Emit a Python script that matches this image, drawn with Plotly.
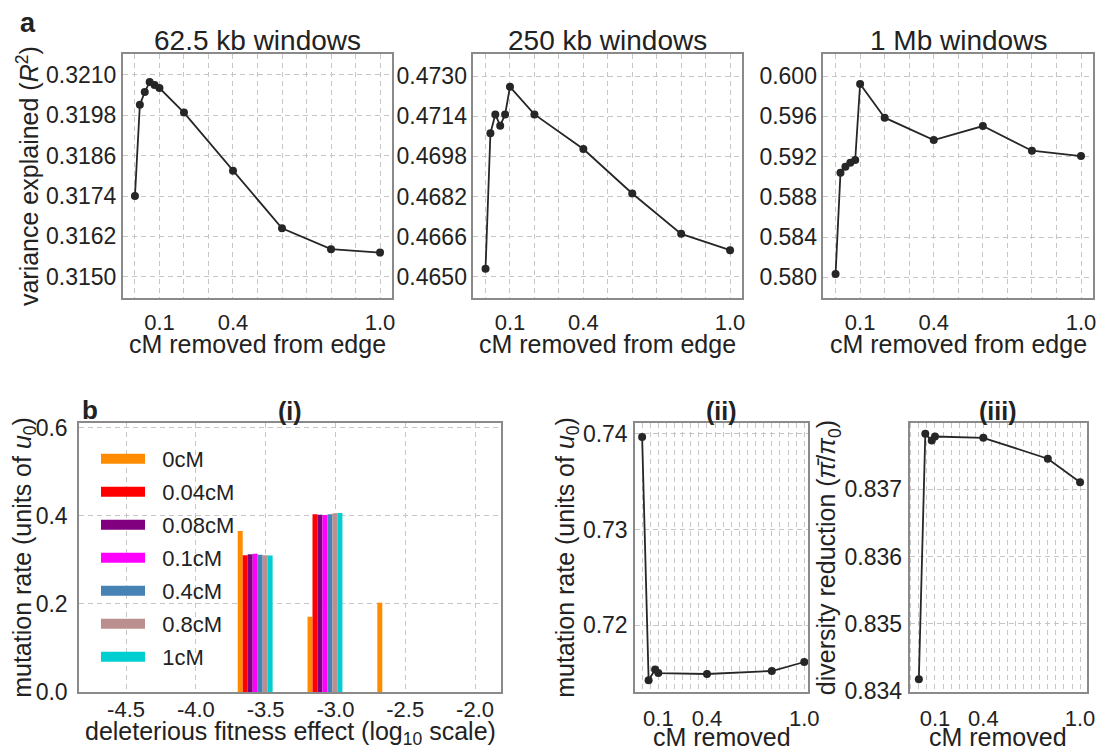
import plotly.graph_objects as go

FONT = "Liberation Sans, Arial, Helvetica, sans-serif"
INK = "#222222"
LINE_C = "#262626"

# ---------------- panel a : variance explained vs cM removed ----------------
cm_removed_a = [0, 0.02, 0.04, 0.06, 0.08, 0.1, 0.2, 0.4, 0.6, 0.8, 1.0]
r2_62kb = [0.31740, 0.32011, 0.32049, 0.32079, 0.32070, 0.32061,
           0.31988, 0.31815, 0.31644, 0.31582, 0.31572]
r2_250kb = [0.46532, 0.47072, 0.47147, 0.47102, 0.47147, 0.47257,
            0.47147, 0.47009, 0.46832, 0.46671, 0.46606]
r2_1mb = [0.58033, 0.59040, 0.59099, 0.59139, 0.59166, 0.59921,
          0.59586, 0.59364, 0.59503, 0.59258, 0.59205]
panel_a_titles = ["62.5 kb windows", "250 kb windows", "1 Mb windows"]
yticks_62kb = [0.3150, 0.3162, 0.3174, 0.3186, 0.3198, 0.3210]
yticks_250kb = [0.4650, 0.4666, 0.4682, 0.4698, 0.4714, 0.4730]
yticks_1mb = [0.580, 0.584, 0.588, 0.592, 0.596, 0.600]
cm_ticks = [0.1, 0.4, 1.0]
cm_ticktext = ["0.1", "0.4", "1.0"]

# ---------------- panel b ----------------
cm_removed_b = [0, 0.04, 0.08, 0.1, 0.4, 0.8, 1.0]
mutation_rate_total = [0.73965, 0.71426, 0.71538, 0.71502, 0.71492, 0.71523, 0.71617]
diversity_reduction = [0.83418, 0.83782, 0.83772, 0.83778, 0.83776, 0.83745, 0.83710]
yticks_mu = [0.72, 0.73, 0.74]
yticks_pi = [0.834, 0.835, 0.836, 0.837]

# (i) mutation rate per deleterious fitness-effect bin (log10), one series per cM removed
fitness_bins = [-3.7, -3.2, -2.7]
fitness_ticks = [-4.5, -4.0, -3.5, -3.0, -2.5, -2.0]
fitness_ticktext = ["-4.5", "-4.0", "-3.5", "-3.0", "-2.5", "-2.0"]
yticks_bar = [0.0, 0.2, 0.4, 0.6]
series_labels = ["0cM", "0.04cM", "0.08cM", "0.1cM", "0.4cM", "0.8cM", "1cM"]
series_colors = ["#FF8C00", "#FF0000", "#800080", "#FF00FF", "#4682B4", "#BC8F8F", "#00CED1"]
mu_0cM = [0.366, 0.171, 0.203]
mu_004cM = [0.311, 0.404, 0.0]
mu_008cM = [0.313, 0.403, 0.0]
mu_01cM = [0.314, 0.402, 0.0]
mu_04cM = [0.312, 0.404, 0.0]
mu_08cM = [0.311, 0.406, 0.0]
mu_1cM = [0.310, 0.407, 0.0]
bar_series = [mu_0cM, mu_004cM, mu_008cM, mu_01cM, mu_04cM, mu_08cM, mu_1cM]

fig = go.Figure()

LINE = dict(color=LINE_C, width=1.8)
MARK = dict(color=LINE_C, size=8)

# panel a lines
for i, vals in enumerate([r2_62kb, r2_250kb, r2_1mb]):
    n = "" if i == 0 else str(i + 1)
    fig.add_trace(go.Scatter(
        x=cm_removed_a, y=vals, mode="lines+markers", showlegend=False,
        line=LINE, marker=MARK, xaxis="x" + n, yaxis="y" + n))

# panel b(i) bars
bar_w = 0.5 / 14
NB = "\u00a0\u00a0"
for i, (vals, lab, col) in enumerate(zip(bar_series, series_labels, series_colors)):
    fig.add_trace(go.Bar(
        x=fitness_bins, y=vals, width=bar_w, offset=i * bar_w, name=lab,
        marker=dict(color=col, line=dict(width=0)), showlegend=False,
        legendgroup=lab, xaxis="x4", yaxis="y4"))
    # legend swatch (wide patch like the original)
    fig.add_trace(go.Scatter(
        x=[None], y=[None], mode="lines", name=NB + lab, legendgroup=lab,
        line=dict(color=col, width=16), xaxis="x4", yaxis="y4"))

# panel b(ii), b(iii)
fig.add_trace(go.Scatter(
    x=cm_removed_b, y=mutation_rate_total, mode="lines+markers", showlegend=False,
    line=LINE, marker=MARK, xaxis="x5", yaxis="y5"))
fig.add_trace(go.Scatter(
    x=cm_removed_b, y=diversity_reduction, mode="lines+markers", showlegend=False,
    line=LINE, marker=MARK, xaxis="x6", yaxis="y6"))

GRID = dict(gridcolor="#c6c6c6", gridwidth=1, griddash="5px,4px")


def axis(domain, anchor, rng, tickvals, ticktext=None, tickformat=None,
         title=None, standoff=0, lstand=0, minor_dtick=None, fs=22):
    d = dict(domain=domain, anchor=anchor, range=rng, tickmode="array",
             tickvals=tickvals, showgrid=True, showline=True, mirror=True,
             linecolor="#8a8a8a", linewidth=1.5, zeroline=False, ticks="",
             automargin=False,
             tickfont=dict(size=fs, color=INK, family=FONT),
             ticklabelstandoff=lstand, **GRID)
    if minor_dtick is not None:
        d["minor"] = dict(tickmode="linear", tick0=0, dtick=minor_dtick,
                          showgrid=True, ticks="", **GRID)
    if ticktext is not None:
        d["ticktext"] = ticktext
    if tickformat is not None:
        d["tickformat"] = tickformat
    if title is not None:
        d["title"] = dict(text=title, standoff=standoff,
                          font=dict(size=25, color=INK, family=FONT))
    return d


# the page body has an 8px margin: figure size and positions are set so that
# the figure lands on the 1112x753 window like the reference
OFF = 8
W, H = 1112 - OFF, 753 - OFF
def px_x(a, b):
    return [(a - OFF) / W, (b - OFF) / W]
def px_y(top, bottom):
    return [1 - (bottom - OFF) / H, 1 - (top - OFF) / H]
def fx(a):
    return (a - OFF) / W
def fy(a):
    return 1 - (a - OFF) / H

ya = px_y(54, 298.3)
yb = px_y(423, 692)
xa = [px_x(122.7, 392.3), px_x(473.3, 742.3), px_x(823.3, 1093.3)]
xb = [px_x(79, 501), px_x(635, 808.3), px_x(909.5, 1087)]

layout = dict(
    width=W, height=H, margin=dict(l=0, r=0, t=0, b=0, autoexpand=False),
    paper_bgcolor="white", plot_bgcolor="white",
    font=dict(family=FONT, color=INK),
    barmode="overlay",
    xaxis=axis(xa[0], "y", [-0.05, 1.05], cm_ticks, cm_ticktext, lstand=4, minor_dtick=0.1),
    yaxis=axis(ya, "x", [0.31436, 0.32162], yticks_62kb, tickformat=".4f",
               title="variance explained (<i>R</i><sup>2</sup>)", lstand=0, fs=23),
    xaxis2=axis(xa[1], "y2", [-0.05, 1.05], cm_ticks, cm_ticktext, lstand=4, minor_dtick=0.1),
    yaxis2=axis(ya, "x2", [0.46414, 0.47388], yticks_250kb, tickformat=".4f", lstand=0, fs=23),
    xaxis3=axis(xa[2], "y3", [-0.05, 1.05], cm_ticks, cm_ticktext, lstand=4, minor_dtick=0.1),
    yaxis3=axis(ya, "x3", [0.57791, 0.60219], yticks_1mb, tickformat=".3f", lstand=0, fs=23),
    xaxis4=axis(xb[0], "y4", [-4.837, -1.814], fitness_ticks, fitness_ticktext, lstand=-3),
    yaxis4=axis(yb, "x4", [0, 0.6113], yticks_bar, tickformat=".1f",
                title="mutation rate (units of <i>u</i><sub>0</sub>)", lstand=5,
                standoff=3, fs=23),
    xaxis5=axis(xb[1], "y5", [-0.044, 1.025], cm_ticks, cm_ticktext, lstand=6, minor_dtick=0.05),
    yaxis5=axis(yb, "x5", [0.71304, 0.74111], yticks_mu, tickformat=".2f",
                title="mutation rate (units of <i>u</i><sub>0</sub>)", lstand=1, fs=23),
    xaxis6=axis(xb[2], "y6", [-0.058, 1.043], cm_ticks, cm_ticktext, lstand=6, minor_dtick=0.05),
    yaxis6=axis(yb, "x6", [0.83399, 0.83798], yticks_pi, tickformat=".3f",
                title="diversity reduction (<i>π̄</i>/<i>π</i><sub>0</sub>)", lstand=1, fs=23),
    legend=dict(x=fx(96), y=fy(438), xanchor="left", yanchor="top",
                bgcolor="rgba(0,0,0,0)", itemwidth=44, tracegroupgap=1.4,
                font=dict(size=22, color=INK, family=FONT)),
)
fig.update_layout(**layout)

annos = []
TF = dict(size=25, color=INK, family=FONT)
for i, t in enumerate(panel_a_titles):
    n = "" if i == 0 else str(i + 1)
    annos.append(dict(text=t, xref="x" + n + " domain", yref="y" + n + " domain",
                      x=0.5, y=1, xanchor="center", yanchor="bottom", yshift=-4,
                      showarrow=False, font=dict(size=28, color=INK, family=FONT)))
    # x-axis title
    annos.append(dict(text="cM removed from edge", xref="x" + n + " domain", yref="paper",
                      x=0.5, y=fy(344), xanchor="center", yanchor="middle",
                      showarrow=False, font=TF))
for i, t in enumerate(["(i)", "(ii)", "(iii)"]):
    n = str(i + 4)
    annos.append(dict(text="<b>" + t + "</b>", xref="x" + n + " domain", yref="y" + n + " domain",
                      x=0.5, y=1, xanchor="center", yanchor="bottom", yshift=-4,
                      showarrow=False, font=dict(size=25, color=INK, family=FONT)))
annos.append(dict(text="deleterious fitness effect (log<sub>10</sub> scale)",
                  xref="x4 domain", yref="paper", x=0.5, y=fy(733),
                  xanchor="center", yanchor="middle", showarrow=False, font=TF))
for n in ["5", "6"]:
    annos.append(dict(text="cM removed", xref="x" + n + " domain", yref="paper",
                      x=0.5, y=0, xanchor="center", yanchor="bottom", yshift=0,
                      showarrow=False, font=TF))
annos.append(dict(text="<b>a</b>", xref="paper", yref="paper", x=fx(18), y=fy(6),
                  xanchor="left", yanchor="top", showarrow=False,
                  font=dict(size=27, color=INK, family=FONT)))
annos.append(dict(text="<b>b</b>", xref="paper", yref="paper", x=fx(80), y=fy(393),
                  xanchor="left", yanchor="top", showarrow=False,
                  font=dict(size=26, color=INK, family=FONT)))
fig.update_layout(annotations=annos)

fig.write_html("out.html")
